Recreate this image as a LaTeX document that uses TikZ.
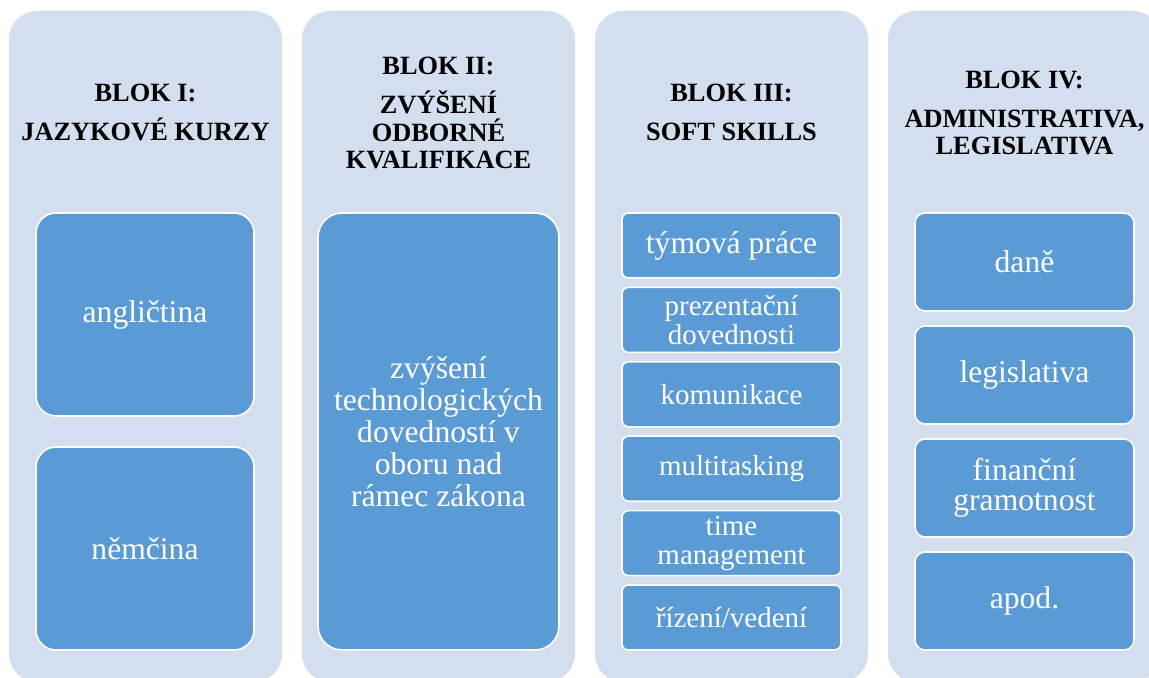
\documentclass[tikz,border=0pt]{standalone}
\usepackage{fontspec}
\setmainfont{Liberation Serif}
\definecolor{blokbg}{RGB}{211,222,239}
\definecolor{itemblue}{RGB}{91,155,213}
\tikzset{
  blokhead/.style={align=center, font=\fontsize{15}{15.9}\selectfont\bfseries},
  item/.style={draw=white, line width=0.9pt, fill=itemblue, text=white, align=center,
    inner sep=1pt, font=\fontsize{18}{17.2}\selectfont},
  itemsmall/.style={item, font=\fontsize{16.5}{16.5}\selectfont},
}

\begin{document}
\begin{tikzpicture}[x=0.02cm, y=-0.02cm]
    \useasboundingbox (0,0) rectangle (1149,678);
    \clip (0,0) rectangle (1149,678);
    % sloupce
    \foreach \i in {0,...,3}
        \fill[blokbg, rounded corners=0.56cm] ({9+293*\i},11) rectangle ({282+293*\i},682);
    % nadpisy
    \node[blokhead] (h1) at (145.5,112) {BLOK I:\\[6.3pt] JAZYKOVÉ KURZY};
    \node[blokhead] (h2) at (438.5,113) {BLOK II:\\[6.3pt] ZVÝŠENÍ\\ ODBORNÉ\\ KVALIFIKACE};
    \node[blokhead] (h3) at (731.5,112) {BLOK III:\\[6.3pt] SOFT SKILLS};
    \node[blokhead] (h4) at (1024.5,113) {BLOK IV:\\[6.3pt] ADMINISTRATIVA,\\ LEGISLATIVA};
    % blok I
    \node[item, rounded corners=0.4cm, minimum width=4.36cm, minimum height=4.06cm] (angl) at (145,314.5) {angličtina};
    \node[item, rounded corners=0.4cm, minimum width=4.36cm, minimum height=4.06cm] (nem) at (145,548.5) {němčina};
    % blok II
    \node[item, rounded corners=0.48cm, minimum width=4.82cm, minimum height=8.74cm, font=\fontsize{18}{18.2}\selectfont] (tech) at (438.5,431.5)
        {zvýšení\\ technologických\\ dovedností v\\ oboru nad\\ rámec zákona};
    % blok III
    \node[item, rounded corners=0.13cm, minimum width=4.38cm, minimum height=1.3cm] (tym) at (731.5,245.5) {týmová práce};
    \node[itemsmall, rounded corners=0.13cm, minimum width=4.38cm, minimum height=1.3cm] (prez) at (731.5,319.9) {prezentační\\ dovednosti};
    \node[itemsmall, rounded corners=0.13cm, minimum width=4.38cm, minimum height=1.3cm] (kom) at (731.5,394.3) {komunikace};
    \node[itemsmall, rounded corners=0.13cm, minimum width=4.38cm, minimum height=1.3cm] (multi) at (731.5,468.7) {multitasking};
    \node[itemsmall, rounded corners=0.13cm, minimum width=4.38cm, minimum height=1.3cm] (time) at (731.5,543.1) {time\\ management};
    \node[itemsmall, rounded corners=0.13cm, minimum width=4.38cm, minimum height=1.3cm] (rizeni) at (731.5,617.5) {řízení/vedení};
    % blok IV
    \node[item, rounded corners=0.2cm, minimum width=4.38cm, minimum height=1.96cm] (dane) at (1024.5,262) {daně};
    \node[item, rounded corners=0.2cm, minimum width=4.38cm, minimum height=1.96cm] (legis) at (1024.5,375) {legislativa};
    \node[item, rounded corners=0.2cm, minimum width=4.38cm, minimum height=1.96cm] (fin) at (1024.5,488) {finanční\\ gramotnost};
    \node[item, rounded corners=0.2cm, minimum width=4.38cm, minimum height=1.96cm] (apod) at (1024.5,601) {apod.};
\end{tikzpicture}
\end{document}
